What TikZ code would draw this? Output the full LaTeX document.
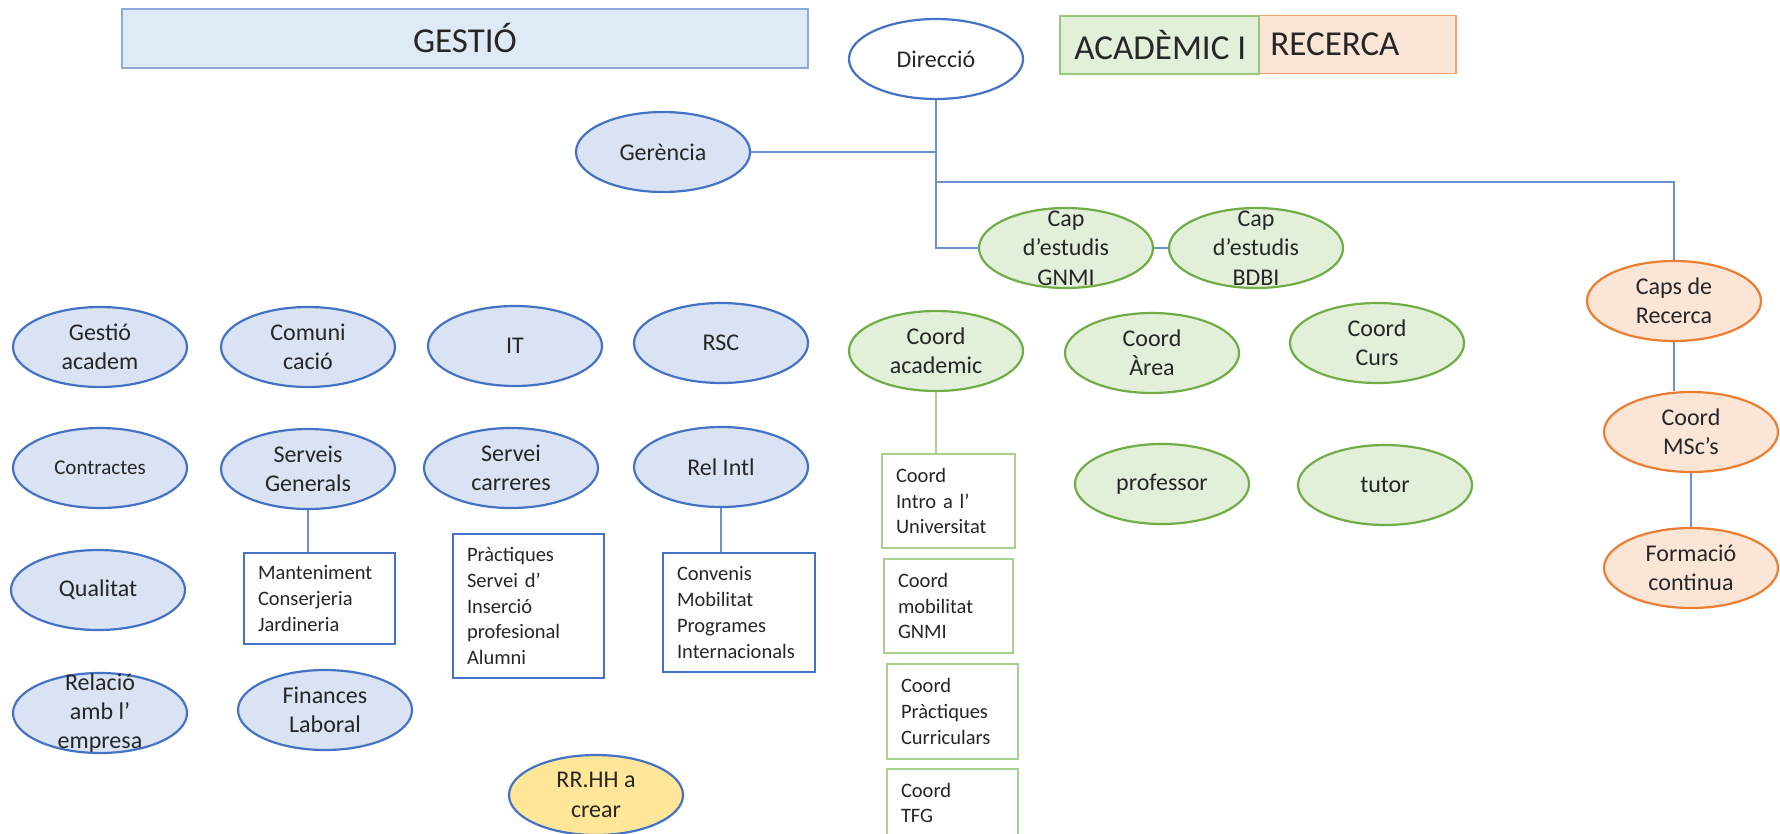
\documentclass[tikz,border=0pt]{standalone}
\usepackage{fontspec}
\setmainfont{Carlito}
\usetikzlibrary{shapes.geometric}
\definecolor{bfill}{HTML}{DAE3F3}
\definecolor{hfill}{HTML}{DEEBF7}
\definecolor{bline}{HTML}{4472C4}
\definecolor{hline}{HTML}{8EAADB}
\definecolor{cline}{HTML}{6F8FD3}
\definecolor{gfill}{HTML}{E2F0D9}
\definecolor{gline}{HTML}{70AD47}
\definecolor{gbox}{HTML}{A9D18E}
\definecolor{ofill}{HTML}{FBE5D6}
\definecolor{oline}{HTML}{ED7D31}
\definecolor{yfill}{HTML}{FFE699}
\definecolor{txt}{HTML}{262626}
\begin{document}
\begin{tikzpicture}[x=1pt,y=-1pt,
  ell/.style={ellipse, draw=bline, line width=2.2pt, minimum width=174pt, minimum height=80pt,
    inner sep=0pt, align=center, font=\fontsize{24}{29.3}\selectfont, text=txt},
  bell/.style={ell, fill=bfill},
  gell/.style={ell, draw=gline, fill=gfill},
  oell/.style={ell, draw=oline, fill=ofill},
  lbl/.style={align=center, inner sep=0pt, font=\fontsize{24}{29.3}\selectfont, text=txt},
  sbox/.style={rectangle, draw=bline, line width=1.4pt, align=left, inner xsep=14pt, inner ysep=0pt,
    font=\fontsize{20.5}{25.8}\selectfont, text=txt, fill=white},
  gsbox/.style={sbox, draw=gbox},
  conn/.style={draw=cline, line width=1.5pt},
  gconn/.style={draw=gbox, line width=1.5pt},
  head/.style={font=\fontsize{35}{42}\selectfont, text=txt, inner sep=0pt}
]
\useasboundingbox (0,0) rectangle (1780,833);
\fill[white] (0,0) rectangle (1780,833);

% headers
\node[draw=hline, fill=hfill, line width=1.5pt, minimum width=686pt, minimum height=59pt, inner sep=0pt,
  font=\fontsize{35}{42}\selectfont, text=txt] (gest) at (465,38.5) {GESTIÓ};
\node[draw=oline!70, fill=ofill, line width=1.5pt, minimum width=197pt, minimum height=58pt, inner sep=0pt] (recb) at (1357.5,44.5) {};
\node[draw=gline!70, fill=gfill, line width=1.5pt, minimum width=199pt, minimum height=58pt, inner sep=0pt] (acab) at (1159.5,45) {};
\node[head, anchor=west] (acat) at ([xshift=15pt]acab.west) {ACADÈMIC I};
\node[head, anchor=west] (rect) at ([xshift=12pt]recb.west) {RECERCA};

% top
\node[ell, fill=white] (dir) at (936,59) {Direcció};
\node[bell] (ger) at (663,152) {Gerència};
\node[gell] (capg) at (1066,248) {};
\node[lbl] (capgt) at (capg) {Cap\\d’estudis\\GNMI};
\node[gell] (capb) at (1256,248) {};
\node[lbl] (capbt) at (capb) {Cap\\d’estudis\\BDBI};
\node[oell] (caps) at (1674,301) {Caps de\\Recerca};
\coordinate (j) at (936,182);

\draw[conn] (dir.south) |- (capg.west);
\draw[conn] (ger.east) -- (ger.east -| dir.south);
\draw[conn] (j) -| (caps.north);
\draw[conn] (capg.east) -- (capb.west);

% gestio ellipses
\node[bell] (ga) at (100,347) {Gestió\\academ};
\node[bell] (com) at (308,347) {Comuni\\cació};
\node[bell] (it) at (515,346) {IT};
\node[bell] (rsc) at (721,343) {RSC};
\node[bell, font=\fontsize{21}{25}\selectfont] (con) at (100,468) {Contractes};
\node[bell] (sg) at (308,469) {Serveis\\Generals};
\node[bell] (sc) at (511,468) {Servei\\carreres};
\node[bell] (ri) at (721,467) {Rel Intl};
\node[bell] (qual) at (98,590) {Qualitat};
\node[bell] (rel) at (100,713) {};
\node[lbl] (relt) at (rel) {Relació\\amb l’\\empresa};
\node[bell] (fin) at (325,710) {Finances\\Laboral};
\node[ell, fill=yfill] (rrhh) at (596,795) {RR.HH a\\crear};

% gestio boxes
\node[sbox, text width=123pt, minimum width=151pt, minimum height=91pt] (mant) at (319.5,598.5)
  {Manteniment\\Conserjeria\\Jardineria};
\node[sbox, text width=123pt, minimum width=151pt, minimum height=144pt] (prac) at (528.5,606)
  {Pràctiques\\Servei d’\\Inserció\\profesional\\Alumni};
\node[sbox, text width=124pt, minimum width=152pt, minimum height=119pt] (conv) at (739,612.5)
  {Convenis\\Mobilitat\\Programes\\Internacionals};
\draw[conn] (sg.south) -- (sg.south |- mant.north);
\draw[conn] (ri.south) -- (ri.south |- conv.north);

% academic
\node[gell] (ca) at (936,351) {Coord\\academic};
\node[gell] (area) at (1152,353) {Coord\\Àrea};
\node[gell] (curs) at (1377,343) {Coord\\Curs};
\node[gell] (prof) at (1162,484) {professor};
\node[gell] (tut) at (1385,485) {tutor};
\node[gsbox, text width=105pt, minimum width=133pt, minimum height=94pt] (intro) at (948.5,501)
  {Coord\\Intro a l’\\Universitat};
\node[gsbox, text width=101pt, minimum width=129pt, minimum height=94pt] (mob) at (948.5,606)
  {Coord\\mobilitat\\GNMI};
\node[gsbox, text width=103pt, minimum width=131pt, minimum height=95pt] (cprac) at (952.5,711.5)
  {Coord\\Pràctiques\\Curriculars};
\node[gsbox, text width=103pt, minimum width=131pt, minimum height=68pt] (tfg) at (952.5,803)
  {Coord\\TFG};
\draw[gconn] (ca.south) -- (ca.south |- intro.north);

% recerca
\node[oell] (msc) at (1691,432) {Coord\\MSc’s};
\node[oell] (form) at (1691,568) {Formació\\continua};
\draw[conn] (caps.south) -- (caps.south |- msc.north);
\draw[conn] (msc.south) -- (form.north);
\end{tikzpicture}
\end{document}
